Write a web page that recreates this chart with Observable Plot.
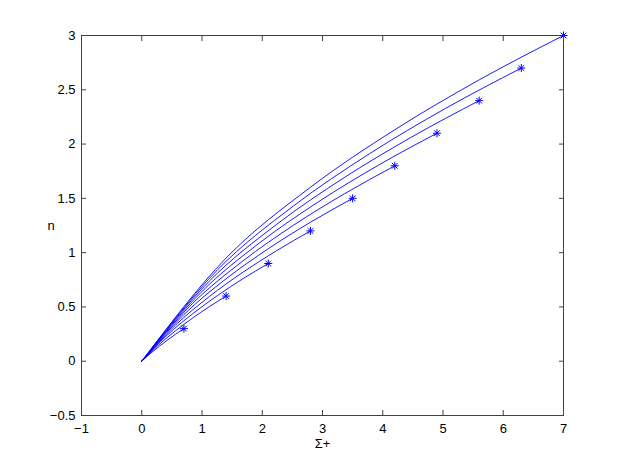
<!DOCTYPE html>
<html><head><meta charset="utf-8">
<script src="https://cdn.jsdelivr.net/npm/d3@7"></script>
<script src="https://cdn.jsdelivr.net/npm/@observablehq/plot@0.6"></script>
<style>
body{margin:0;background:#fff}
#chart svg{display:block}
</style>
</head><body><div id="chart"></div>
<script>
const xTicks = [-1, 0, 1, 2, 3, 4, 5, 6, 7];
const yTicks = [-0.5, 0, 0.5, 1, 1.5, 2, 2.5, 3];
const markerX = [0.7, 1.4, 2.1, 2.8, 3.5, 4.2, 4.9, 5.6, 6.3, 7];
const markerY = [0.3, 0.6, 0.9, 1.2, 1.5, 1.8, 2.1, 2.4, 2.7, 3];
const curve1  = [[0,0],[0.14,0.069],[0.28,0.133],[0.42,0.192],[0.56,0.248],[0.7,0.3]];
const curve2  = [[0,0],[0.28,0.150],[0.56,0.280],[0.84,0.396],[1.12,0.502],[1.4,0.6]];
const curve3  = [[0,0],[0.42,0.239],[0.84,0.435],[1.26,0.606],[1.68,0.760],[2.1,0.9]];
const curve4  = [[0,0],[0.56,0.332],[1.12,0.595],[1.68,0.820],[2.24,1.019],[2.8,1.2]];
const curve5  = [[0,0],[0.7,0.430],[1.4,0.759],[2.1,1.036],[2.8,1.280],[3.5,1.5]];
const curve6  = [[0,0],[0.84,0.530],[1.68,0.924],[2.52,1.253],[3.36,1.541],[4.2,1.8]];
const curve7  = [[0,0],[0.98,0.632],[1.96,1.092],[2.94,1.471],[3.92,1.803],[4.9,2.1]];
const curve8  = [[0,0],[1.12,0.737],[2.24,1.261],[3.36,1.691],[4.48,2.065],[5.6,2.4]];
const curve9  = [[0,0],[1.26,0.843],[2.52,1.431],[3.78,1.911],[5.04,2.328],[6.3,2.7]];
const curve10 = [[0,0],[1.4,0.950],[2.8,1.602],[4.2,2.132],[5.6,2.591],[7,3]];

const curves = [curve1, curve2, curve3, curve4, curve5, curve6, curve7, curve8, curve9, curve10];
const lineRows = curves.flatMap((c, i) => c.map(([x, y]) => ({k: i + 1, x, y})));
const markers = markerX.map((x, i) => ({x, y: markerY[i]}));

const fmt = d => (d < 0 ? "\u2212" + (-d) : String(d));
const axisColor = "#404040";
const blue = "#0000ff";

const chart = Plot.plot({
  width: 622,
  height: 468,
  marginLeft: 81,
  marginRight: 59,
  marginTop: 35,
  marginBottom: 53,
  style: {fontFamily: "'Liberation Sans', Arial, Helvetica, sans-serif", fontSize: "13px", color: "#000", background: "#fff"},
  x: {domain: [-1, 7]},
  y: {domain: [-0.5, 3]},
  marks: [
    Plot.line(lineRows, {x: "x", y: "y", z: "k", curve: "monotone-x", stroke: blue, strokeWidth: 0.9}),
    Plot.dot(markers, {x: "x", y: "y", symbol: "plus", r: 2.7, stroke: blue, strokeWidth: 1}),
    Plot.dot(markers, {x: "x", y: "y", symbol: "times", r: 2.7, stroke: blue, strokeWidth: 1}),
    Plot.frame({stroke: axisColor}),
    Plot.axisX({ticks: xTicks, tickSize: -5, tickPadding: 13, tickFormat: fmt, label: null, stroke: axisColor, fill: "#000"}),
    Plot.axisX({ticks: xTicks, anchor: "top", tickSize: -5, tickFormat: () => "", label: null, stroke: axisColor}),
    Plot.axisY({ticks: yTicks, tickSize: -5, tickPadding: 11, tickFormat: fmt, label: null, stroke: axisColor, fill: "#000"}),
    Plot.axisY({ticks: yTicks, anchor: "right", tickSize: -5, tickFormat: () => "", label: null, stroke: axisColor}),
    Plot.text(["\u03A3+"], {frameAnchor: "bottom", dy: 32, fill: "#000"}),
    Plot.text(["n"], {frameAnchor: "left", dx: -34, fill: "#000"})
  ]
});
document.getElementById("chart").appendChild(chart);
</script>
</body></html>
